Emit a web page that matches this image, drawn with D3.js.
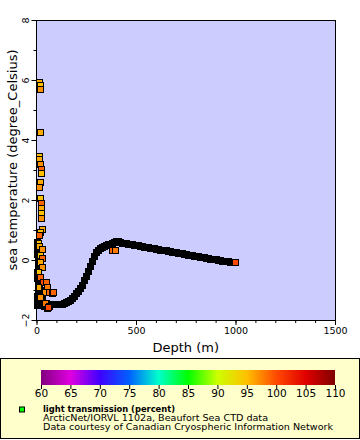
<!DOCTYPE html>
<html><head><meta charset="utf-8">
<script src="https://cdn.jsdelivr.net/npm/d3@7"></script>
<style>body{margin:0;background:#fff}svg{display:block}text{font-family:"DejaVu Sans",sans-serif}</style>
</head><body><svg id="c" width="360" height="440"></svg>
<script>
// Main CTD profile (depth m, temperature degC)
const profileDepth = [0,5,10,20,30,40,50,60,70,80,90,100,110,120,130,140,150,160,170,180,190,200,210,220,230,240,250,260,270,280,290,300,310,320,330,340,350,360,370,380,390,400,410,420,430,440,
  450,460,470,480,490,500,510,520,530,540,550,560,570,580,590,600,610,620,630,640,650,660,670,680,690,700,710,720,730,740,750,760,770,780,790,800,810,820,830,840,850,860,870,880,890,900,910,920,930,940,950,960,970,980,990,1000];
const profileTemp  = [-1.2,-1.2,-1.3,-1.35,-1.4,-1.42,-1.44,-1.45,-1.46,-1.47,-1.48,-1.48,-1.47,-1.46,-1.45,-1.43,-1.41,-1.37,-1.32,-1.26,-1.19,-1.11,-1.02,-0.93,-0.82,-0.68,-0.52,-0.36,-0.2,-0.04,0.12,0.26,0.35,0.41,0.45,0.48,0.5,0.52,0.54,0.57,0.6,0.62,0.62,0.6,0.58,0.57,
  0.56,0.55,0.54,0.52,0.51,0.5,0.49,0.47,0.46,0.45,0.44,0.42,0.41,0.4,0.39,0.38,0.36,0.35,0.34,0.33,0.32,0.3,0.29,0.28,0.27,0.26,0.24,0.23,0.22,0.21,0.2,0.18,0.17,0.16,0.15,0.14,0.12,0.11,0.1,0.09,0.08,0.06,0.05,0.04,0.03,0.02,0.0,-0.01,-0.02,-0.03,-0.04,-0.05,-0.06,-0.06,-0.07,-0.08];
const profileLight = 100;
// Dense near-surface casts (hidden fills)
const surfDepth = [3,5,4,6,8,5,10,12,8,15,20,25,30,10,5,15,25,35,40,20,45,3,6,12,18,2,28,50,55];
const surfTemp  = [0.6,0.4,0.2,0.0,-0.2,-0.4,-0.5,-0.7,-0.8,-0.9,-1.0,-1.1,-1.2,-1.1,-1.3,-1.35,-1.4,-1.5,-1.55,-1.5,-1.45,-0.6,-1.0,-1.25,-1.45,-1.5,-1.3,-1.55,-1.6];
// Scattered near-surface samples with visible colour
const scatDepth = [13,18,18,18,13,14,18,23,23,18,13,18,23,23,23,23,26,18,13,9,13,26,18,29,18,26,9,18,31,48,51,43,64,76,43,63,18,9,81,59,377,392];
const scatTemp  = [5.93,5.83,5.7,4.27,3.47,3.36,3.2,3.02,2.89,2.61,2.44,2.08,1.89,1.72,1.56,1.39,1.02,0.94,0.83,0.58,0.47,0.36,0.17,0.06,-0.06,-0.22,-0.39,-0.56,-0.72,-0.72,-0.89,-1.06,-1.06,-1.11,-1.44,-1.53,-1.22,-0.89,-1.07,-1.56,0.33,0.33];
const scatLight = [96,95,97,96,95,96,97,99,95,96,97,95,99,96,95,97,96,95,99,95,96,97,95,99,96,97,95,99,100,99,98,97,99,100,98,100,97,96,99,100,99,98];
// Colour bar
const cbTicks = [60,65,70,75,80,85,90,95,100,105,110];
const cbColors = ["#800080","#e000e0","#4000ff","#0060ff","#00ffcc","#00ff00","#ccff00","#ffc000","#ff4a00","#e00000","#800000"];
const xTicks = [0,500,1000,1500];
const yTicks = [-2,0,2,4,6,8];
const legendLines = ["light transmission (percent)","ArcticNet/IORVL 1102a, Beaufort Sea CTD data","Data courtesy of Canadian Cryospheric Information Network"];

const svg = d3.select("#c");
const L=36.5, R=335, T=20, B=320;
const x = d3.scaleLinear().domain([0,1500]).range([L,R]);
const y = d3.scaleLinear().domain([-2,8]).range([B,T]);
const color = d3.scaleLinear().domain(cbTicks).range(cbColors).clamp(true);

svg.append("rect").attr("x",L).attr("y",T).attr("width",R-L).attr("height",B-T).attr("fill","#ccccff");

const g = svg.append("g");
const sq = 6;
function squares(dep, tmp, fillFn){
  g.selectAll(null).data(dep.map((d,i)=>({d, t:tmp[i], i}))).enter().append("rect")
    .attr("x",p=>Math.round(x(p.d)-sq/2)+0.5).attr("y",p=>Math.round(y(p.t)-sq/2)+0.5).attr("width",sq).attr("height",sq)
    .attr("fill",fillFn).attr("stroke","#000").attr("stroke-width",1);
}
squares(surfDepth, surfTemp, ()=>"#000");
squares(profileDepth, profileTemp, p=> p.i===profileDepth.length-1 ? color(profileLight) : "#000");
squares(scatDepth, scatTemp, p=>color(scatLight[p.i]));

// frame
svg.append("rect").attr("x",L).attr("y",T).attr("width",R-L).attr("height",B-T).attr("fill","none").attr("stroke","#000").attr("shape-rendering","crispEdges");

// x axis
const xa = svg.append("g").attr("transform",`translate(0,${B})`);
xa.call(d3.axisBottom(x).tickValues(d3.range(0,1501,100)).tickSize(3).tickFormat(""));
xa.call(g2=>g2.select(".domain").remove());
const xb = svg.append("g").attr("transform",`translate(0,${B})`);
xb.call(d3.axisBottom(x).tickValues(xTicks).tickSize(5).tickPadding(2).tickFormat(d3.format("d")));
xb.select(".domain").remove();
xb.selectAll("text").attr("font-size",9.5).attr("font-family","DejaVu Sans").attr("fill","#000");
svg.append("text").attr("x",(L+R)/2).attr("y",352).attr("text-anchor","middle").attr("font-size",13).text("Depth (m)");

// y axis
const ya = svg.append("g").attr("transform",`translate(${L},0)`);
ya.call(d3.axisLeft(y).tickValues(d3.range(-2,8.01,1)).tickSize(3).tickFormat(""));
ya.select(".domain").remove();
const yb = svg.append("g").attr("transform",`translate(${L},0)`);
yb.call(d3.axisLeft(y).tickValues(yTicks).tickSize(5).tickFormat(d3.format("d")));
yb.select(".domain").remove();
yb.selectAll("text").attr("font-size",9.5).attr("font-family","DejaVu Sans").attr("fill","#000")
  .attr("x",0).attr("dy",0).attr("text-anchor","middle")
  .attr("transform","translate(-8,0) rotate(-90)");
svg.append("text").attr("transform","translate(17,160) rotate(-90)").attr("text-anchor","middle").attr("font-size",13).text("sea temperature (degree_Celsius)");

// legend
svg.append("rect").attr("x",0.5).attr("y",358.5).attr("width",359).attr("height",80).attr("fill","#ffffcc").attr("stroke","#000");
const cx = d3.scaleLinear().domain([60,110]).range([41,335]);
const grad = svg.append("defs").append("linearGradient").attr("id","cb");
grad.selectAll("stop").data(cbTicks).enter().append("stop")
  .attr("offset",d=>(d-60)/50).attr("stop-color",d=>color(d));
svg.append("rect").attr("x",41).attr("y",370).attr("width",294).attr("height",15).attr("fill","url(#cb)");
const ca = svg.append("g").attr("transform","translate(0,385)");
ca.call(d3.axisBottom(cx).tickValues(cbTicks).tickSize(4).tickPadding(1).tickFormat(d3.format("d")));
ca.select(".domain").remove();
ca.selectAll("text").attr("font-size",10.5).attr("font-family","DejaVu Sans").attr("fill","#000");

svg.append("rect").attr("x",19.5).attr("y",407).attr("width",5).attr("height",5).attr("fill","#00ff00").attr("stroke","#000");
const lLen=[132,225,290];
svg.selectAll(null).data(legendLines).enter().append("text")
  .attr("x",43).attr("y",(d,i)=>411.5+i*9.2).attr("font-size",8)
  .attr("textLength",(d,i)=>lLen[i]).attr("lengthAdjust","spacingAndGlyphs")
  .attr("font-weight",(d,i)=>i===0?"bold":"normal").text(d=>d);
</script></body></html>
